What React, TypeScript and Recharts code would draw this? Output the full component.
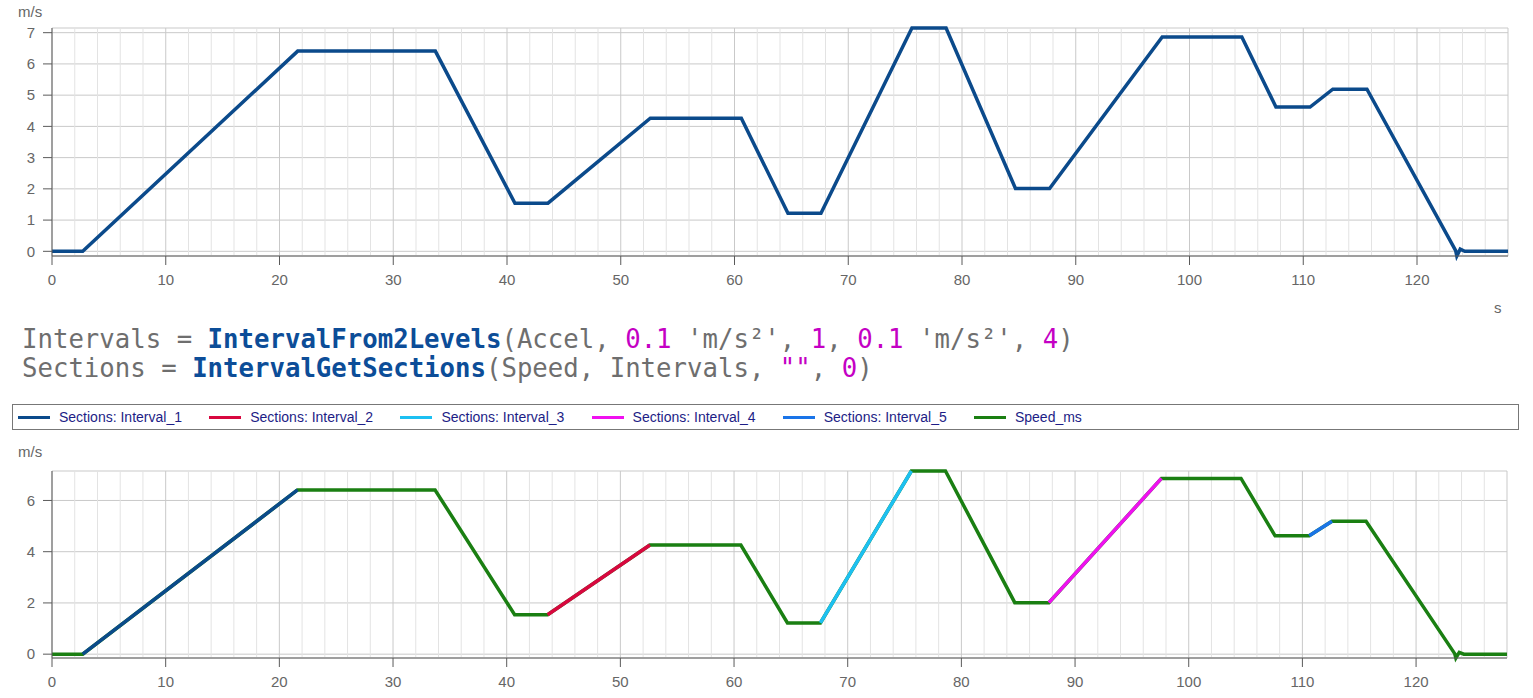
import React from 'react'
import {
  LineChart,
  Line,
  XAxis,
  YAxis,
  CartesianGrid,
  ReferenceLine,
  Legend,
} from 'recharts'

// speed breakpoints (s, m/s)
const TIME = [0, 2.7, 21.6, 33.7, 40.7, 43.6, 52.6, 60.6, 64.7, 67.6, 75.6, 78.6, 84.7, 87.7, 97.6, 104.6, 107.6, 110.6, 112.6, 115.6, 123.4, 123.5, 123.8, 124.2, 128]
const SPEED = [0, 0, 6.41, 6.41, 1.54, 1.54, 4.26, 4.26, 1.22, 1.22, 7.15, 7.15, 2.01, 2.01, 6.86, 6.86, 4.62, 4.62, 5.19, 5.19, 0.02, -0.15, 0.07, 0, 0]

// sections found by IntervalGetSections
const SECTION_NAMES = ['Interval_1', 'Interval_2', 'Interval_3', 'Interval_4', 'Interval_5']
const SECTION_START = [2.7, 43.6, 67.6, 87.7, 110.6]
const SECTION_END = [21.6, 52.6, 75.6, 97.6, 112.6]
const SECTION_COLORS = ['#0b4a8b', '#d8073f', '#1cc0f2', '#f010f0', '#1a74e8']

const SPEED_COLOR = '#1a7f12'
const TOP_COLOR = '#0b4a8b'

const X_TICKS = [0, 10, 20, 30, 40, 50, 60, 70, 80, 90, 100, 110, 120]
const X_MINOR = [2, 4, 6, 8, 12, 14, 16, 18, 22, 24, 26, 28, 32, 34, 36, 38, 42, 44, 46, 48, 52, 54, 56, 58, 62, 64, 66, 68, 72, 74, 76, 78, 82, 84, 86, 88, 92, 94, 96, 98, 102, 104, 106, 108, 112, 114, 116, 118, 122, 124, 126]
const Y_TICKS_TOP = [0, 1, 2, 3, 4, 5, 6, 7]
const Y_TICKS_BOTTOM = [0, 2, 4, 6]

const data = TIME.map((t, i) => {
  const row: Record<string, number | null> = { t, speed: SPEED[i] }
  SECTION_NAMES.forEach((name, k) => {
    row[name] = t >= SECTION_START[k] && t <= SECTION_END[k] ? SPEED[i] : null
  })
  return row
})

const AXIS = '#5a5a5a'
const GRID_MAJOR = '#c9c9c9'
const GRID_MINOR = '#e3e3e3'
const tickStyle = { fill: '#666', fontSize: 15, fontFamily: '"Liberation Sans", Arial, sans-serif' }
const unitStyle = { color: '#666', fontSize: 15, fontFamily: '"Liberation Sans", Arial, sans-serif' }

const GRAY = '#6e6e6e'
const BLUE = '#0c4d98'
const MAG = '#c400c4'

function LegendBox() {
  const items = [
    ...SECTION_NAMES.map((n, k) => ({ label: 'Sections: ' + n, color: SECTION_COLORS[k] })),
    { label: 'Speed_ms', color: SPEED_COLOR },
  ]
  return (
    <div
      style={{
        boxSizing: 'border-box',
        width: 1507,
        height: 26,
        border: '1px solid #777',
        display: 'flex',
        alignItems: 'center',
        paddingLeft: 5,
        fontFamily: '"Liberation Sans", Arial, sans-serif',
        fontSize: 14,
        color: '#1d1d86',
      }}
    >
      {items.map((it) => (
        <div key={it.label} style={{ width: 191.2, display: 'flex', alignItems: 'center', flex: 'none' }}>
          <div style={{ width: 32, height: 3, background: it.color, marginRight: 9 }} />
          <span>{it.label}</span>
        </div>
      ))}
    </div>
  )
}

export default function App() {
  return (
    <div style={{ position: 'absolute', left: 0, top: 0, width: 1533, height: 698, background: '#fff', overflow: 'hidden' }}>
      <div style={{ position: 'absolute', left: 18, top: 3, ...unitStyle }}>m/s</div>
      <div style={{ position: 'absolute', left: 1494, top: 299, ...unitStyle }}>s</div>

      <div style={{ position: 'absolute', left: 0, top: 0 }}>
        <LineChart width={1533} height={300} data={data} margin={{ top: 28, right: 25, bottom: 0, left: 0 }}>
          <CartesianGrid stroke={GRID_MAJOR} />
          {X_MINOR.map((v) => (
            <ReferenceLine key={'m' + v} x={v} stroke={GRID_MINOR} />
          ))}
          <XAxis dataKey="t" type="number" domain={[0, 128]} ticks={X_TICKS} height={44} tick={tickStyle} tickSize={9} tickMargin={9} stroke={AXIS} />
          <XAxis xAxisId="top" orientation="top" type="number" domain={[0, 128]} height={0} tick={false} tickLine={false} stroke={AXIS} />
          <YAxis type="number" domain={['dataMin', 'dataMax']} ticks={Y_TICKS_TOP} width={52} tick={tickStyle} tickSize={9} tickMargin={8} stroke={AXIS} />
          <YAxis yAxisId="right" orientation="right" type="number" domain={[0, 1]} width={0} tick={false} tickLine={false} stroke="#8a8a8a" />
          <Line type="linear" dataKey="speed" stroke={TOP_COLOR} strokeWidth={3.5} dot={false} isAnimationActive={false} />
        </LineChart>
      </div>

      <div
        style={{
          position: 'absolute',
          left: 22,
          top: 325,
          fontFamily: '"DejaVu Sans Mono", monospace',
          fontSize: 25.7,
          lineHeight: '29px',
          color: GRAY,
          whiteSpace: 'pre',
        }}
      >
        <div>
          Intervals = <b style={{ color: BLUE }}>IntervalFrom2Levels</b>(Accel, <span style={{ color: MAG }}>0.1</span> 'm/s²', <span style={{ color: MAG }}>1</span>, <span style={{ color: MAG }}>0.1</span> 'm/s²', <span style={{ color: MAG }}>4</span>)
        </div>
        <div>
          Sections = <b style={{ color: BLUE }}>IntervalGetSections</b>(Speed, Intervals, <span style={{ color: MAG }}>""</span>, <span style={{ color: MAG }}>0</span>)
        </div>
      </div>

      <div style={{ position: 'absolute', left: 18, top: 443, ...unitStyle }}>m/s</div>

      <div style={{ position: 'absolute', left: 0, top: 400 }}>
        <LineChart width={1533} height={298} data={data} margin={{ top: 71, right: 26, bottom: 0, left: 0 }}>
          <CartesianGrid stroke={GRID_MAJOR} />
          {X_MINOR.map((v) => (
            <ReferenceLine key={'m' + v} x={v} stroke={GRID_MINOR} />
          ))}
          <XAxis dataKey="t" type="number" domain={[0, 128]} ticks={X_TICKS} height={40} tick={tickStyle} tickSize={9} tickMargin={9} stroke={AXIS} />
          <XAxis xAxisId="top" orientation="top" type="number" domain={[0, 128]} height={0} tick={false} tickLine={false} stroke={AXIS} />
          <YAxis type="number" domain={['dataMin', 'dataMax']} ticks={Y_TICKS_BOTTOM} width={52} tick={tickStyle} tickSize={9} tickMargin={8} stroke={AXIS} />
          <YAxis yAxisId="right" orientation="right" type="number" domain={[0, 1]} width={0} tick={false} tickLine={false} stroke="#8a8a8a" />
          <Legend
            layout="horizontal"
            verticalAlign="middle"
            align="center"
            wrapperStyle={{ top: 4, left: 12, width: 1507, height: 26 }}
            content={() => <LegendBox />}
          />
          <Line type="linear" dataKey="speed" name="Speed_ms" stroke={SPEED_COLOR} strokeWidth={3.5} dot={false} isAnimationActive={false} />
          {SECTION_NAMES.map((n, k) => (
            <Line
              key={n}
              type="linear"
              dataKey={n}
              name={'Sections: ' + n}
              stroke={SECTION_COLORS[k]}
              strokeWidth={3.5}
              dot={false}
              connectNulls={false}
              isAnimationActive={false}
            />
          ))}
        </LineChart>
      </div>
    </div>
  )
}
